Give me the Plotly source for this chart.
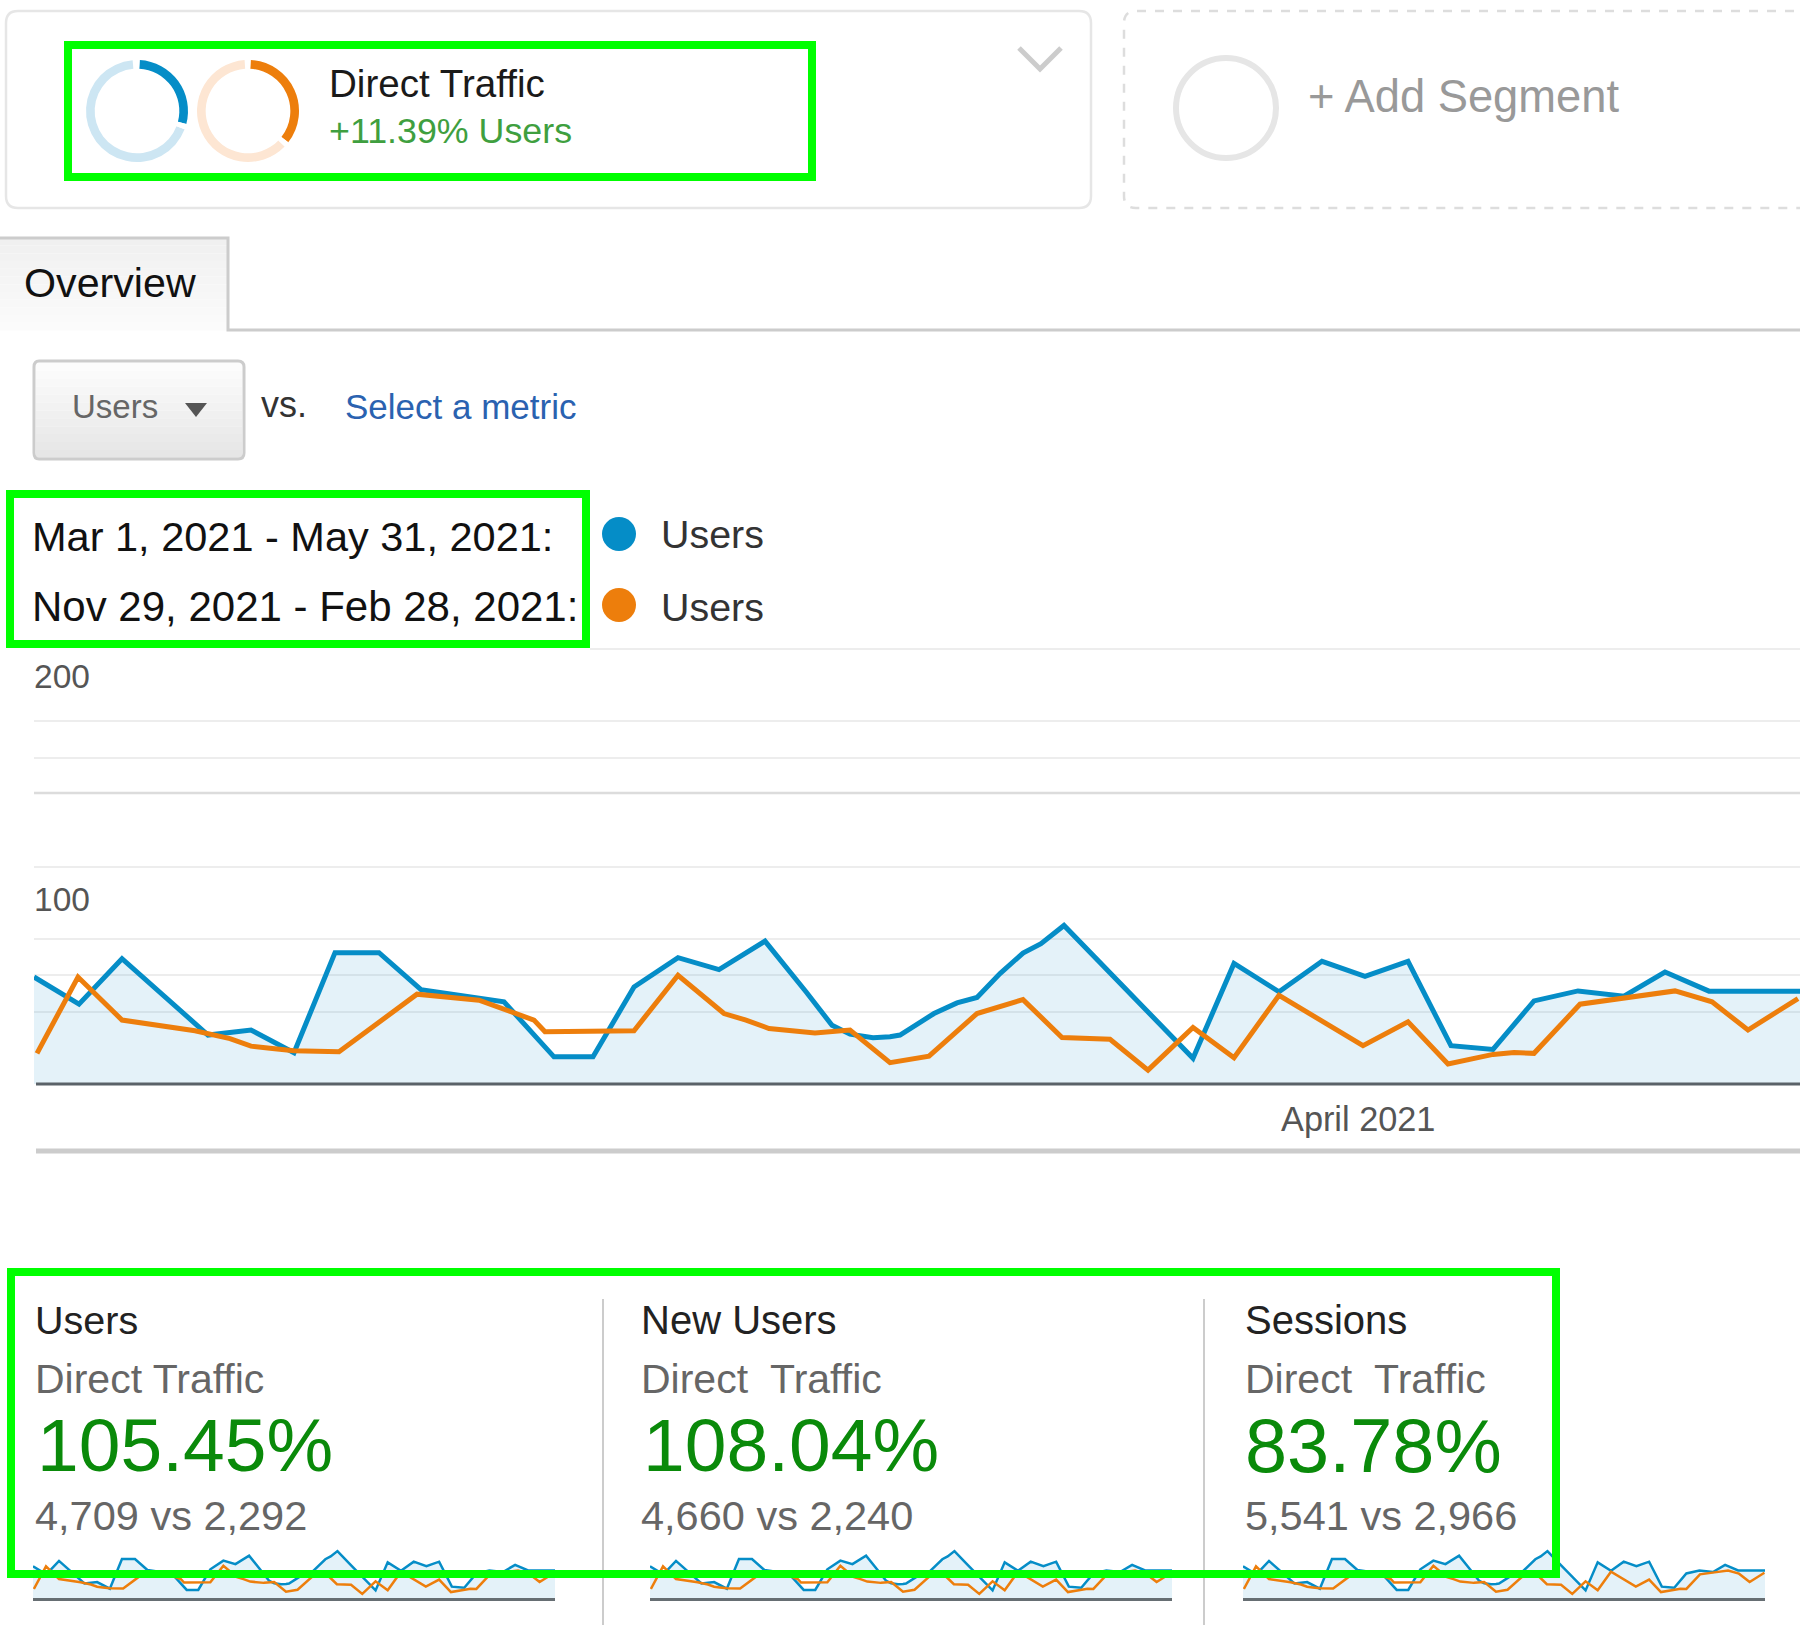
import plotly.graph_objects as go
import pandas as pd


# 主圖數據(藍線與橙線的位置和數值)
df_blue = pd.DataFrame({
    'pos': [34, 79, 122, 208, 251, 294, 335, 379, 421, 462, 504, 554, 593, 634, 678, 719, 765, 806, 832, 850, 873, 890,
            900, 934, 957, 977, 1000, 1023, 1041, 1064, 1107, 1150, 1193, 1234, 1279, 1322, 1365, 1408, 1451, 1493,
            1534, 1578, 1624, 1665, 1709, 1800],
    'users': [49.2, 36.7, 57.6, 22.5, 24.8, 14.4, 60.4, 60.4, 43.4, 40.4, 37.8, 12.5, 12.5, 44.6, 58.1, 52.6, 65.7, 42.4, 27, 22.9, 21.3, 21.7,
              22.5, 32.4, 37.3, 39.8, 50.8, 60.2, 64.5, 72.9, 52.3, 32.4, 11.8, 55.4, 42.4, 56.4, 49.5, 56.4, 17.6, 15.9,
              38.2, 42.8, 40.4, 51.5, 42.7, 42.7],
})
df_orange = pd.DataFrame({
    'pos': [37, 78, 122, 195, 230, 251, 270, 294, 339, 417, 479, 534, 545, 634, 678, 724, 746, 769, 815, 850, 890,
            929, 977, 1023, 1062, 1110, 1148, 1193, 1234, 1279, 1363, 1408, 1448, 1493, 1514, 1534, 1580, 1629, 1675,
            1712, 1748, 1798],
    'users': [14.1, 49.2, 29.4, 24.5, 20.9, 17.4, 16.4, 15.3, 14.8, 41.3, 38.5, 29.4, 24, 24.5, 50, 32.4, 29.4, 25.5, 23.5, 24.8, 9.8,
              12.8, 32.4, 38.8, 21.4, 20.6, 6.4, 26, 12.1, 40.8, 17.6, 28.6, 9.2, 13.6, 14.5, 14.1, 36.7, 39.8, 42.8,
              37.8, 24.8, 39.3],
})

blue = '#058dc7'
orange = '#ed7e0c'
green_box = '#00ff00'
font_name = 'Liberation Sans'

# 創建儀表板
fig = go.Figure()

# 添加主圖軌跡
fig.add_trace(go.Scatter(x=df_blue['pos'], y=df_blue['users'], mode='lines', line=dict(color=blue, width=5),
                         fill='tozeroy', fillcolor='rgba(5,141,199,0.11)', xaxis='x2', yaxis='y2'))
fig.add_trace(go.Scatter(x=df_orange['pos'], y=df_orange['users'], mode='lines', line=dict(color=orange, width=5),
                         xaxis='x2', yaxis='y2'))

# 添加三個小圖軌跡
for n in [3, 4, 5]:
    fig.add_trace(go.Scatter(x=df_blue['pos'], y=df_blue['users'], mode='lines', line=dict(color=blue, width=2.5),
                             fill='tozeroy', fillcolor='rgba(5,141,199,0.11)', xaxis='x%d' % n, yaxis='y%d' % n))
    fig.add_trace(go.Scatter(x=df_orange['pos'], y=df_orange['users'], mode='lines', line=dict(color=orange, width=2.5),
                             xaxis='x%d' % n, yaxis='y%d' % n))

# 圖例圓點
fig.add_trace(go.Scatter(x=[619, 619], y=[534, 605], mode='markers', marker=dict(size=34, color=[blue, orange]),
                         xaxis='x', yaxis='y'))

# 環形圖
fig.add_trace(go.Pie(values=[28.3, 2.2, 67.8, 1.7], sort=False, rotation=3, hole=0.83, textinfo='none',
                     marker=dict(colors=[blue, 'white', '#cde6f3', 'white']),
                     domain=dict(x=[86 / 1800, 188 / 1800], y=[1 - 162 / 1636, 1 - 60 / 1636])))
fig.add_trace(go.Pie(values=[34.7, 1.9, 61.7, 1.7], sort=False, rotation=3, hole=0.83, textinfo='none',
                     marker=dict(colors=[orange, 'white', '#fde6d3', 'white']),
                     domain=dict(x=[197 / 1800, 299 / 1800], y=[1 - 162 / 1636, 1 - 60 / 1636])))

# 文字(x, y, 內容, 字級, 顏色)
texts = [
    (328, 83, 'Direct Traffic', 38.6, '#1a1a1a'),
    (328, 131, '+11.39% Users', 35.8, '#3f9f3f'),
    (1307, 96, '+ Add Segment', 45.3, '#999999'),
    (23, 283, 'Overview', 41.2, '#111111'),
    (71, 406, 'Users', 33, '#666666'),
    (260, 404, 'vs.', 36, '#333333'),
    (344, 406, 'Select a metric', 35, '#2a62b0'),
    (31, 536, 'Mar 1, 2021 - May 31, 2021:', 41.5, '#111111'),
    (31, 606, 'Nov 29, 2021 - Feb 28, 2021:', 42, '#111111'),
    (660, 534, 'Users', 39.4, '#333333'),
    (660, 607, 'Users', 39.4, '#333333'),
    (33, 676, '200', 33.5, '#555555'),
    (33, 899, '100', 33.5, '#555555'),
    (1280, 1119, 'April 2021', 34.3, '#555555'),
    (34, 1320, 'Users', 39.5, '#222222'),
    (34, 1379, 'Direct Traffic', 41, '#666666'),
    (36, 1445, '105.45%', 75, '#0a8a0a'),
    (34, 1515, '4,709 vs 2,292', 41.5, '#666666'),
    (640, 1320, 'New Users', 40, '#222222'),
    (640, 1379, 'Direct\u00a0 Traffic', 41, '#666666'),
    (642, 1445, '108.04%', 75, '#0a8a0a'),
    (640, 1515, '4,660 vs 2,240', 41.5, '#666666'),
    (1244, 1320, 'Sessions', 40, '#222222'),
    (1244, 1379, 'Direct\u00a0 Traffic', 41, '#666666'),
    (1244, 1445, '83.78%', 75.7, '#0a8a0a'),
    (1244, 1515, '5,541 vs 2,966', 41.5, '#666666'),
]
for tx, ty, content, size, color in texts:
    fig.add_annotation(x=tx, y=ty, xref='x', yref='y', text=content, showarrow=False, xanchor='left', yanchor='middle',
                       borderpad=0, font=dict(family=font_name, size=size, color=color))

# 外框和線條
fig.add_shape(type='path', xref='x', yref='y', line=dict(color='#e6e6e6', width=2.5),
              path='M 18 11 L 1079 11 Q 1091 11 1091 23 L 1091 196 Q 1091 208 1079 208 L 18 208 Q 6 208 6 196 L 6 23 Q 6 11 18 11 Z')
fig.add_shape(type='path', xref='x', yref='y', line=dict(color='#dddddd', width=2.5, dash='dash'),
              path='M 1812 11 L 1136 11 Q 1124 11 1124 23 L 1124 196 Q 1124 208 1136 208 L 1812 208')
fig.add_shape(type='circle', xref='x', yref='y', x0=1176, x1=1276, y0=58, y1=158, line=dict(color='#e6e6e6', width=6))
fig.add_shape(type='path', xref='x', yref='y', line=dict(color='#cccccc', width=5),
              path='M 1019 48 L 1040 69 L 1061 48')

# 分頁和按鈕的漸層
for i in range(12):
    fig.add_shape(type='rect', xref='x', yref='y', x0=0, x1=227, y0=238 + i * 7.7, y1=238 + (i + 1) * 7.7, line_width=0,
                  fillcolor='rgb(%d,%d,%d)' % ((240 + i,) * 3))
    fig.add_shape(type='rect', xref='x', yref='y', x0=36, x1=242, y0=363 + i * 7.9, y1=363 + (i + 1) * 7.9, line_width=0,
                  fillcolor='rgb(%d,%d,%d)' % ((252 - i * 2,) * 3))
fig.add_shape(type='path', xref='x', yref='y', line=dict(color='#cccccc', width=3),
              path='M -5 238 L 228 238 L 228 330 L 1805 330')
fig.add_shape(type='path', xref='x', yref='y', line=dict(color='#cccccc', width=3),
              path='M 39 361 L 238 361 Q 244 361 244 367 L 244 453 Q 244 459 238 459 L 39 459 Q 34 459 34 453 L 34 367 Q 34 361 39 361 Z')
fig.add_shape(type='path', xref='x', yref='y', fillcolor='#555555', line_width=0, path='M 185 403 L 207 403 L 196 417 Z')

# 主圖的線、分隔線
fig.add_shape(type='line', xref='x', yref='y', x0=590, x1=1800, y0=649, y1=649, line=dict(color='#ededed', width=2))
fig.add_shape(type='line', xref='x', yref='y', x0=34, x1=1800, y0=793, y1=793, line=dict(color='#dcdcdc', width=2.5))
fig.add_shape(type='line', xref='x', yref='y', x0=36, x1=1800, y0=1084, y1=1084, line=dict(color='#5a6268', width=3))
fig.add_shape(type='line', xref='x', yref='y', x0=36, x1=1800, y0=1151, y1=1151, line=dict(color='#cccccc', width=5))
fig.add_shape(type='line', xref='x', yref='y', x0=603, x1=603, y0=1299, y1=1625, line=dict(color='#cccccc', width=2))
fig.add_shape(type='line', xref='x', yref='y', x0=1204, x1=1204, y0=1299, y1=1625, line=dict(color='#cccccc', width=2))

# 綠色方框
fig.add_shape(type='rect', xref='x', yref='y', x0=68, x1=812, y0=45, y1=177, line=dict(color=green_box, width=8))
fig.add_shape(type='rect', xref='x', yref='y', x0=10, x1=586, y0=494, y1=644, line=dict(color=green_box, width=8))
fig.add_shape(type='rect', xref='x', yref='y', x0=11, x1=1556, y0=1272, y1=1574, line=dict(color=green_box, width=8))

# 小圖座標軸設定
spark_x = dict(range=[34, 1800], showgrid=False, zeroline=False, showticklabels=False, showline=True,
               linecolor='#666e73', linewidth=3)
spark_y = dict(range=[0, 80], domain=[1 - 1598 / 1636, 1 - 1546.5 / 1636], showgrid=False, zeroline=False,
               showticklabels=False)

# 更新佈局
fig.update_layout(width=1800, height=1636,
                  margin=dict(l=0, r=0, t=0, b=0),
                  showlegend=False,
                  paper_bgcolor='white',
                  plot_bgcolor='rgba(0,0,0,0)',
                  font=dict(family=font_name),
                  xaxis=dict(range=[0, 1800], domain=[0, 1], visible=False),
                  yaxis=dict(range=[1636, 0], domain=[0, 1], visible=False),
                  xaxis2=dict(range=[34, 1800], domain=[34 / 1800, 1], anchor='y2', showgrid=False, zeroline=False,
                              showticklabels=False),
                  yaxis2=dict(range=[0, 200], domain=[1 - 1084 / 1636, 1 - 649 / 1636], anchor='x2', zeroline=False,
                              showticklabels=False, tickmode='array',
                              tickvals=[33.3, 50, 66.7, 100, 150, 166.7],
                              gridcolor='#ededed', gridwidth=2),
                  xaxis3=dict(spark_x, domain=[33 / 1800, 555 / 1800], anchor='y3'),
                  yaxis3=dict(spark_y, anchor='x3'),
                  xaxis4=dict(spark_x, domain=[650 / 1800, 1172 / 1800], anchor='y4'),
                  yaxis4=dict(spark_y, anchor='x4'),
                  xaxis5=dict(spark_x, domain=[1243 / 1800, 1765 / 1800], anchor='y5'),
                  yaxis5=dict(spark_y, anchor='x5'))

# 輸出
fig.write_html("out.html", config=dict(displayModeBar=False), post_script="document.body.style.margin='0';")
